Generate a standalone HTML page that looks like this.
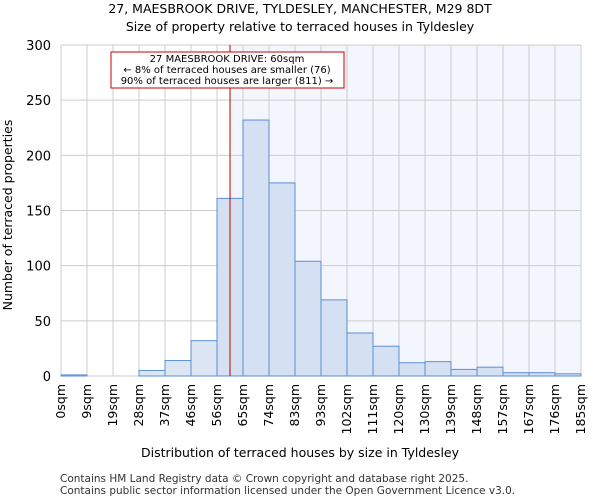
<!DOCTYPE html>
<html><head><meta charset="utf-8"><style>
body{margin:0;background:#fff;font-family:"DejaVu Sans","Liberation Sans",sans-serif;}
</style></head><body>
<svg width="600" height="500" font-family="DejaVu Sans, Liberation Sans, sans-serif">
<text x="300" y="13" text-anchor="middle" font-size="12.5">27, MAESBROOK DRIVE, TYLDESLEY, MANCHESTER, M29 8DT</text>
<text x="300" y="31" text-anchor="middle" font-size="12.5">Size of property relative to terraced houses in Tyldesley</text>
<g id="plot"></g>
<text x="300" y="457" text-anchor="middle" font-size="12.5">Distribution of terraced houses by size in Tyldesley</text>
<text x="12" y="215" text-anchor="middle" font-size="12.5" transform="rotate(-90 12 215)">Number of terraced properties</text>
<text x="60" y="482" font-size="10.5" fill="#333">Contains HM Land Registry data © Crown copyright and database right 2025.</text>
<text x="60" y="494" font-size="10.5" fill="#333">Contains public sector information licensed under the Open Government Licence v3.0.</text>
</svg>
<script>
const categories=["0sqm","9sqm","19sqm","28sqm","37sqm","46sqm","56sqm","65sqm","74sqm","83sqm","93sqm","102sqm","111sqm","120sqm","130sqm","139sqm","148sqm","157sqm","167sqm","176sqm","185sqm"];
const counts=[1,0,0,5,14,32,161,232,175,104,69,39,27,12,13,6,8,3,3,2];
const yTicks=[0,50,100,150,200,250,300];
const markerBin=6.5;
const NS="http://www.w3.org/2000/svg";
const g=document.getElementById('plot');
const X0=61,X1=581,Y0=376,Y1=45,nb=counts.length;
const xs=i=>X0+(X1-X0)*i/nb;
const ys=v=>Y0-(Y0-Y1)*v/300;
function mk(t,a,p){const e=document.createElementNS(NS,t);for(const k in a)e.setAttribute(k,a[k]);(p||g).appendChild(e);return e;}
const mx=xs(markerBin);
let e=mk('rect',{x:mx,y:Y1,width:X1-mx,height:Y0-Y1,fill:'#f3f6fd'});


for(let i=0;i<=nb;i++){e=mk('line',{x1:xs(i),x2:xs(i),y1:Y1,y2:Y0,stroke:'#ccc','stroke-width':1});

}
yTicks.forEach(t=>{e=mk('line',{x1:X0,x2:X1,y1:ys(t),y2:ys(t),stroke:'#ccc','stroke-width':1});


e=mk('text',{x:X0-10,y:ys(t)+5,'text-anchor':'end','font-size':13});e.textContent=t;

});
counts.forEach((c,i)=>{e=mk('rect',{x:xs(i),y:ys(c),width:xs(i+1)-xs(i),height:Y0-ys(c),fill:i<6?'#dde6f5':'#d6e0f3',stroke:'#5b8fd6','stroke-width':1});

});
categories.forEach((c,i)=>{const x=xs(i)+4,y=Y0+8;e=mk('text',{x:x,y:y,'text-anchor':'end','font-size':12.5,transform:`rotate(-90 ${x} ${y})`});e.textContent=c;

});
e=mk('line',{x1:mx,x2:mx,y1:Y1,y2:Y0,stroke:'#b00','stroke-width':1});


e=mk('rect',{x:111,y:52,width:233,height:36,fill:'#fff',stroke:'#c00','stroke-width':1});


["27 MAESBROOK DRIVE: 60sqm","← 8% of terraced houses are smaller (76)","90% of terraced houses are larger (811) →"].forEach((s,i)=>{e=mk('text',{x:227,y:62+i*11,'text-anchor':'middle','font-size':10});e.textContent=s;

});
</script>
</body></html>
